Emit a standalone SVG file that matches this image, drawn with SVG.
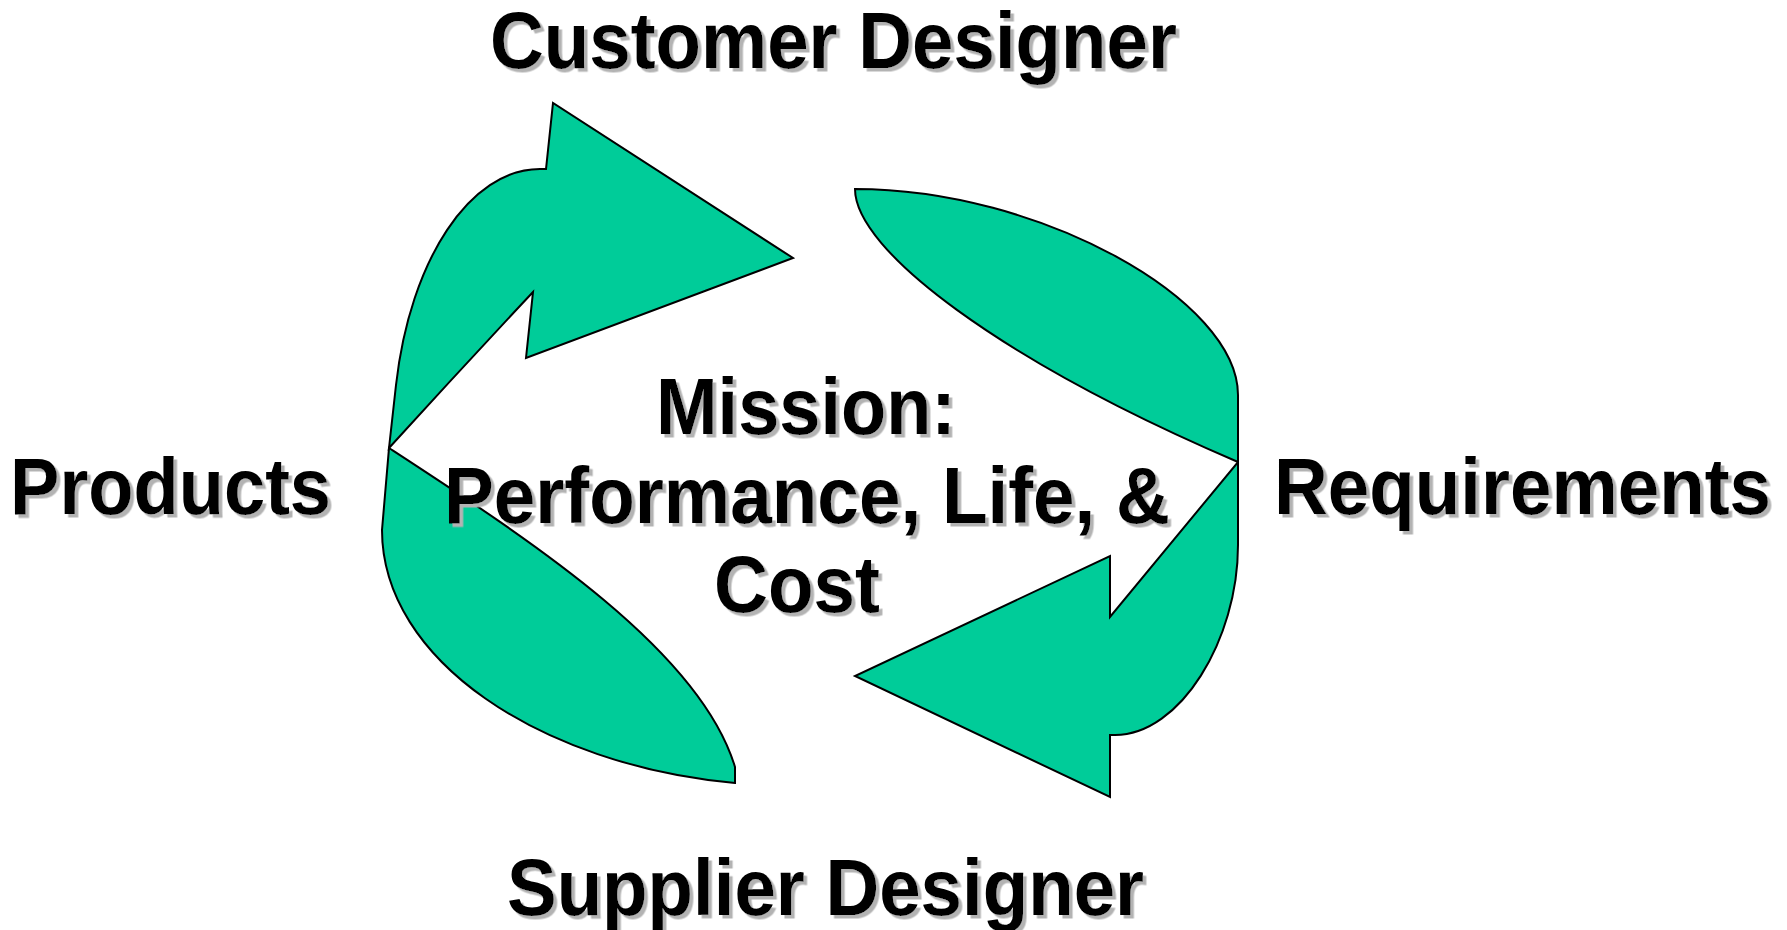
<svg xmlns="http://www.w3.org/2000/svg" width="1787" height="930" viewBox="0 0 1787 930">
  <defs>
    <filter id="shadow" x="-5%" y="-20%" width="110%" height="140%">
      <feDropShadow dx="3.5" dy="3.5" stdDeviation="0" flood-color="#b3b3b3" flood-opacity="1"/>
    </filter>
    <style>
      .lbl { font-family: "Liberation Sans", Arial, sans-serif; font-weight: bold; font-size: 79px; fill: #000; filter: url(#shadow); }
      .flow { fill: #00CC99; stroke: #000; stroke-width: 2; stroke-linejoin: miter; }
    </style>
  </defs>
  <rect width="1787" height="930" fill="#fff"/>

  <!-- curved arrows forming the cycle -->
  <g id="connectors">
    <!-- left arrow: tail at bottom, head pointing right toward the customer side -->
    <path class="flow" d="M 389,448 L 396,385 C 410,260 470,169 540,169 L 546,169 L 553,103 L 793,258 L 526,358 L 533,292 Q 460,370 389,448 Z"/>
    <path class="flow" d="M 389,448 L 382,530 C 382,660 540,765 735,783 L 735,767 C 700,650 530,540 389,448 Z"/>
    <!-- right arrow: tail at top, head pointing left toward the supplier side -->
    <path class="flow" d="M 855,189 C 1040,189 1238,300 1238,395 L 1238,462 C 1000,360 855,250 855,189 Z"/>
    <path class="flow" d="M 1238,462 L 1238,545 C 1238,640 1180,735 1115,735 L 1110,735 L 1110,797 L 855,676 L 1110,556 L 1110,617 Z"/>
  </g>

  <g id="customer-designer">
    <text class="lbl" x="490" y="68" textLength="687" lengthAdjust="spacingAndGlyphs">Customer Designer</text>
  </g>
  <g id="products">
    <text class="lbl" x="10" y="514" textLength="321" lengthAdjust="spacingAndGlyphs">Products</text>
  </g>
  <g id="requirements">
    <text class="lbl" x="1274" y="514" textLength="497" lengthAdjust="spacingAndGlyphs">Requirements</text>
  </g>
  <g id="supplier-designer">
    <text class="lbl" x="507" y="915" textLength="637" lengthAdjust="spacingAndGlyphs">Supplier Designer</text>
  </g>
  <g id="mission">
    <text class="lbl" x="656" y="434" textLength="300" lengthAdjust="spacingAndGlyphs">Mission:</text>
    <text class="lbl" x="444" y="523" textLength="726" lengthAdjust="spacingAndGlyphs">Performance, Life, &amp;</text>
    <text class="lbl" x="714" y="612" textLength="166" lengthAdjust="spacingAndGlyphs">Cost</text>
  </g>
</svg>
